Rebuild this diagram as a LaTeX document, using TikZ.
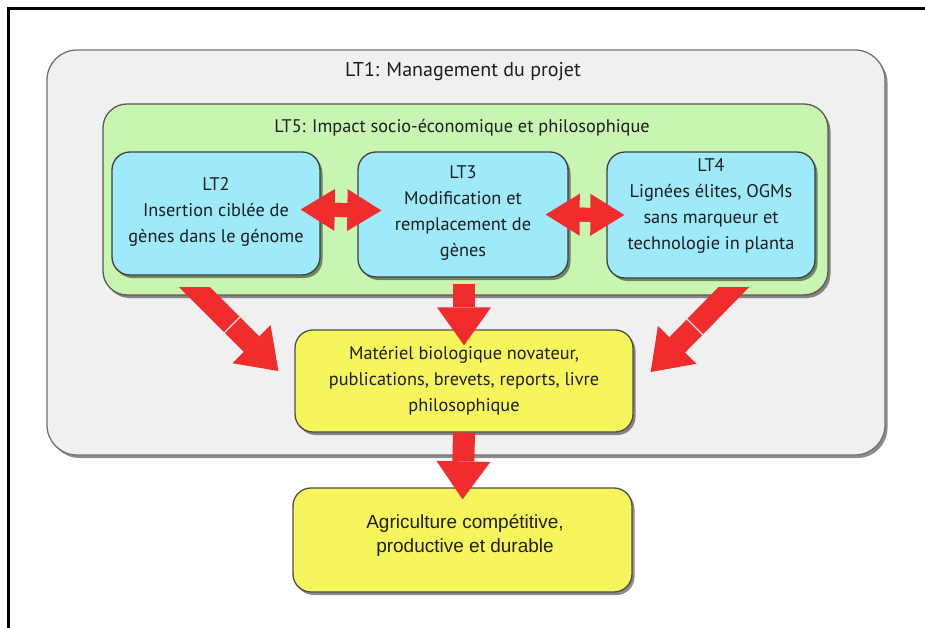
\documentclass[tikz,border=0pt]{standalone}
\usepackage{fontspec}
\setmainfont{PT Sans}
\newfontfamily\arialf{Liberation Sans}
\usetikzlibrary{arrows.meta,shadows,calc}
\definecolor{outerfill}{RGB}{240,240,240}
\definecolor{greenfill}{RGB}{200,246,178}
\definecolor{bluefill}{RGB}{158,234,250}
\definecolor{yellowfill}{RGB}{246,246,92}
\definecolor{arrowred}{RGB}{240,44,44}
\definecolor{txtc}{RGB}{30,30,30}
\begin{document}
\begin{tikzpicture}[x=1pt,y=-1pt,
  shad/.style={drop shadow={shadow xshift=2.5pt,shadow yshift=-3pt,fill=black,opacity=0.45}},
  panel/.style={draw=#1, line width=1.3pt, inner sep=0pt, shad},
  lbl/.style={text=txtc, font=\fontsize{18.3}{26}\selectfont, align=center, inner sep=0pt},
  lblsans/.style={text=txtc, font=\arialf\fontsize{19}{24}\selectfont, align=center, inner sep=0pt},
  fatarrow/.style={draw=arrowred, line width=22pt, -{Triangle[length=38pt,width=54pt,line width=0pt]}},
  dblarrow/.style={draw=arrowred, line width=14pt,
     {Triangle[length=34pt,width=42pt,line width=0pt]}-{Triangle[length=34pt,width=42pt,line width=0pt]}},
  dblshaft/.style={draw=arrowred, line width=14pt, shorten <=13pt, shorten >=13pt},
  seam/.style={draw=white, line width=1.2pt, opacity=0.85}
]
\useasboundingbox (0,0) rectangle (925,628);
\fill[white] (0,0) rectangle (925,628);
% page frame
\draw[line width=3pt] (8,628) -- (8,8.5) -- (925,8.5);

% LT1
\node[panel=black!55, fill=outerfill, rounded corners=30pt, minimum width=838pt, minimum height=405pt] (LT1) at (466,252.5) {};
\node[lbl, font=\fontsize{20}{26}\selectfont] (LT1t) at (463,72) {LT1: Management du projet};
% LT5
\node[panel=black!65, fill=greenfill, rounded corners=24pt, minimum width=725pt, minimum height=191pt] (LT5) at (465.5,199.5) {};
\node[lbl] (LT5t) at (462,128) {LT5: Impact socio-économique et philosophique};
% LT2 LT3 LT4
\node[panel=black!75, fill=bluefill, rounded corners=18pt, minimum width=208pt, minimum height=123pt] (LT2) at (216,213.5) {};
\node[lbl] (LT2t) at (216,212) {LT2\\Insertion ciblée de\\gènes dans le génome};
\node[panel=black!75, fill=bluefill, rounded corners=18pt, minimum width=210pt, minimum height=125pt] (LT3) at (463,214.5) {};
\node[lbl] (LT3t) at (463,213) {LT3\\Modification et\\remplacement de\\gènes};
\node[panel=black!75, fill=bluefill, rounded corners=18pt, minimum width=208pt, minimum height=126pt] (LT4) at (711,215) {};
\node[lbl] (LT4t) at (711,206) {LT4\\Lignées élites, OGMs\\sans marqueur et\\technologie in planta};
% yellow boxes
\node[panel=black!70, fill=yellowfill, rounded corners=18pt, minimum width=338pt, minimum height=102pt] (Y1) at (464,381) {};
\node[lbl] (Y1t) at (464,381) {Matériel biologique novateur,\\publications, brevets, reports, livre\\philosophique};
\node[panel=black!70, fill=yellowfill, rounded corners=18pt, minimum width=339pt, minimum height=104pt] (Y2) at (462.5,540) {};
\node[lblsans] (Y2t) at (465,535) {Agriculture compétitive,\\productive et durable};

% double arrows
\coordinate (d1a) at ([shift={(-20,-4)}]LT2.east);
\coordinate (d1b) at ([shift={(24,-4)}]LT3.west);
\draw[dblshaft] (d1a) -- (d1b);
\draw[dblarrow] (d1a) -- (d1b);
\coordinate (d2a) at ([shift={(-23,0)}]LT3.east);
\coordinate (d2b) at ([shift={(18,0)}]LT4.west);
\draw[dblshaft] (d2a) -- (d2b);
\draw[dblarrow] (d2a) -- (d2b);

% down arrows
\coordinate (dA) at (LT5.south -| Y1.north);
\draw[fatarrow] ($(dA)+(0,-12)$) -- ($(Y1.north)+(0,16)$);
\draw[fatarrow] (Y1.south) -- ($(Y2.north)+(0,12)$);

% diagonal arrows
\begin{scope}
\clip (0,287) rectangle (925,628);
\coordinate (lt) at ($(Y1.west)+(-16,-10)$);
\coordinate (ls) at ($(lt)+(-94,-94)$);
\draw[fatarrow] (ls) -- (lt);
\coordinate (rt) at ($(Y1.east)+(17,-9)$);
\coordinate (rs) at ($(rt)+(93,-95)$);
\draw[fatarrow] (rs) -- (rt);
\end{scope}
\coordinate (lm) at (232,325);
\draw[seam] ($(lm)+(-8,8)$) -- ($(lm)+(8,-8)$);
\coordinate (rm) at (695,327);
\draw[seam] ($(rm)+(-8,-8)$) -- ($(rm)+(8,8)$);
\end{tikzpicture}
\end{document}
